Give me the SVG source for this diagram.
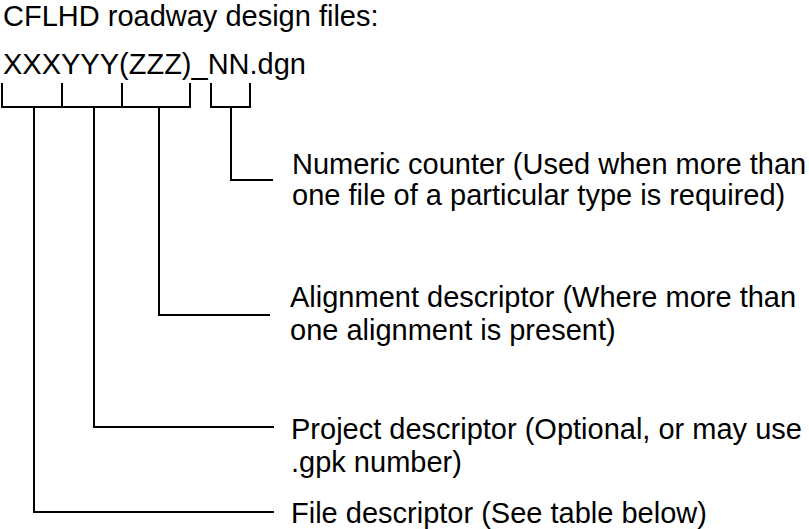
<svg xmlns="http://www.w3.org/2000/svg" width="809" height="529" viewBox="0 0 809 529">
  <style>
    text { font-family: "Liberation Sans", Arial, sans-serif; font-size: 29px; fill: #000; }
    .ln { fill: none; stroke: #000; stroke-width: 2; stroke-linecap: butt; stroke-linejoin: miter; }
  </style>
  <rect width="809" height="529" fill="#fff"/>

  <g id="title">
    <text x="3" y="26">CFLHD roadway design files:</text>
  </g>

  <g id="filename">
    <text x="3" y="74">XXXYYY(ZZZ)_NN.dgn</text>
  </g>

  <g id="connectors">
    <!-- bracket under XXX / YYY / (ZZZ) -->
    <path class="ln" d="M2,83 V107 H190 V83 M62,83 V107 M122,83 V107"/>
    <!-- bracket under NN -->
    <path class="ln" d="M211,83 V107 H250 V83"/>
    <!-- leaders to the descriptions -->
    <path class="ln" d="M231,107 V180 H273"/>
    <path class="ln" d="M159,107 V315 H270"/>
    <path class="ln" d="M94,107 V427 H274"/>
    <path class="ln" d="M34,107 V512 H274"/>
  </g>

  <g id="numeric-counter">
    <text x="292" y="174">Numeric counter (Used when more than</text>
    <text x="292" y="205">one file of a particular type is required)</text>
  </g>

  <g id="alignment-descriptor">
    <text x="290" y="307">Alignment descriptor (Where more than</text>
    <text x="290" y="340">one alignment is present)</text>
  </g>

  <g id="project-descriptor">
    <text x="291" y="439">Project descriptor (Optional, or may use</text>
    <text x="291" y="472">.gpk number)</text>
  </g>

  <g id="file-descriptor">
    <text x="291" y="523">File descriptor (See table below)</text>
  </g>
</svg>
